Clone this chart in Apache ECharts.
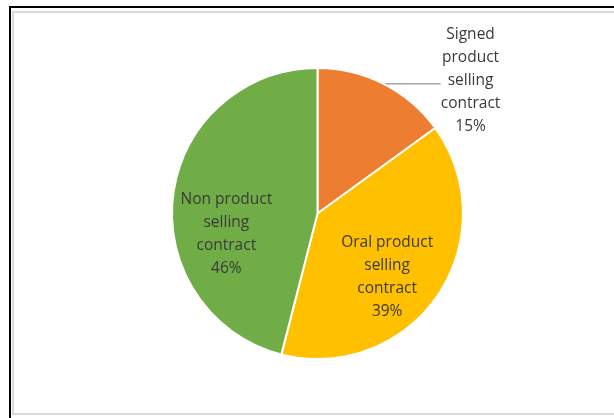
<!DOCTYPE html>
<html>
<head>
<meta charset="utf-8">
<script src="https://cdn.jsdelivr.net/npm/echarts@6/dist/echarts.min.js"></script>
<style>
html,body{margin:0;padding:0;background:#fff;}
#chart{width:614px;height:418px;}
</style>
</head>
<body>
<div id="chart"></div>
<script>
var categories = ['Signed product selling contract', 'Oral product selling contract', 'Non product selling contract'];
var labelLines = [
  ['Signed', 'product', 'selling', 'contract'],
  ['Oral product', 'selling', 'contract'],
  ['Non product', 'selling', 'contract']
];
var values = [15, 39, 46];
var colors = ['#ED7D31', '#FFC000', '#70AD47'];

var chart = echarts.init(document.getElementById('chart'), null, {renderer: 'canvas'});

var baseText = {
  fontFamily: '"Open Sans", sans-serif',
  fontSize: 15.5,
  color: '#3a3a3a',
  lineHeight: 23
};

var data = values.map(function (v, i) {
  return {
    name: categories[i],
    value: v,
    itemStyle: {color: colors[i]}
  };
});

function fmt(i) {
  return function (p) {
    var lines = labelLines[i].slice();
    lines.push(Math.round(p.percent) + '%');
    return lines.map(function (l) { return '{c|' + l + '}'; }).join('\n');
  };
}

// Signed: outside with leader line
data[0].label = {
  show: true,
  position: 'outside',
  distanceToLabelLine: 0,
  offset: [0, -3],
  formatter: fmt(0),
  rich: {c: Object.assign({width: 60, align: 'center'}, baseText)}
};
data[0].labelLine = {show: true, length: 0, length2: 57, smooth: false,
  lineStyle: {color: '#a6a6a6', width: 1.5}};

data[1].label = {
  show: true,
  position: 'inside',
  offset: [7, 21],
  formatter: fmt(1),
  rich: {c: Object.assign({align: 'center'}, baseText)}
};
data[1].labelLine = {show: false};

data[2].label = {
  show: true,
  position: 'inside',
  offset: [-16, 30],
  formatter: fmt(2),
  rich: {c: Object.assign({align: 'center'}, baseText)}
};
data[2].labelLine = {show: false};

chart.setOption({
  animation: false,
  backgroundColor: '#ffffff',
  graphic: [
    {type: 'rect', shape: {x: 10, y: 7, width: 700, height: 600},
     style: {fill: null, stroke: '#000000', lineWidth: 2}, silent: true, z: -10},
    {type: 'rect', shape: {x: 13, y: 12, width: 700, height: 402},
     style: {fill: null, stroke: '#d9d9d9', lineWidth: 2}, silent: true, z: -10}
  ],
  series: [{
    type: 'pie',
    center: [317.5, 213.5],
    radius: [0, 145.5],
    startAngle: 90,
    clockwise: true,
    avoidLabelOverlap: false,
    itemStyle: {borderColor: '#ffffff', borderWidth: 2},
    emphasis: {disabled: true},
    data: data
  }]
});
</script>
</body>
</html>
